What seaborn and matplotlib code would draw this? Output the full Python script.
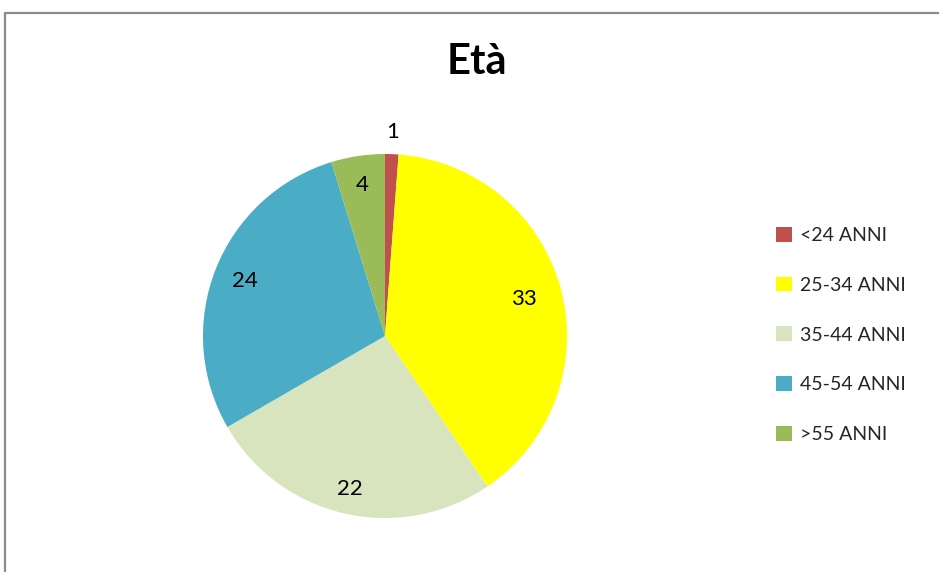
import matplotlib
matplotlib.use("Agg")
import matplotlib.pyplot as plt
from matplotlib.lines import Line2D
from matplotlib.patches import Patch
import seaborn as sns
import numpy as np

categories = ["<24 ANNI", "25-34 ANNI", "35-44 ANNI", "45-54 ANNI", ">55 ANNI"]
values = [1, 33, 22, 24, 4]
colors = ["#C0504D", "#FFFF00", "#D7E4BD", "#4BACC6", "#9BBB59"]
title = "Età"

sns.set_theme(style="white")
plt.rcParams['font.family'] = ['Lato', 'DejaVu Sans']

W, H = 939, 572
fig = plt.figure(figsize=(W / 100, H / 100), dpi=100)
cx, cy, r = 385, 336, 182
ax = fig.add_axes([(cx - r) / W, (H - cy - r) / H, 2 * r / W, 2 * r / H])
wedges, _ = ax.pie(values, colors=colors, startangle=90, counterclock=False,
                   radius=1.0, wedgeprops=dict(linewidth=0))
ax.set_xlim(-1, 1)
ax.set_ylim(-1, 1)
ax.set_aspect('equal')
ax.axis('off')

dists = [1.12, 0.79, 0.86, 0.83, 0.84]
for w, v, d in zip(wedges, values, dists):
    ang = np.deg2rad((w.theta1 + w.theta2) / 2)
    ax.text(d * np.cos(ang), d * np.sin(ang), str(v), ha='center', va='center',
            fontsize=16, color='black', family=['Lato', 'DejaVu Sans'])

fig.text(477 / W, 1 - 62 / H, title, ha='center', va='center',
         fontsize=30, fontweight='bold', color='black')

handles = [Patch(facecolor=c, edgecolor='none') for c in colors]
fig.legend(handles, categories, loc='center left',
           bbox_to_anchor=(776 / W, 1 - 335 / H), frameon=False,
           fontsize=14, handlelength=0.8, handleheight=0.8,
           handletextpad=0.45, labelspacing=1.68, borderaxespad=0, borderpad=0)

fig.add_artist(Line2D([4.5 / W, 1], [1 - 12.5 / H, 1 - 12.5 / H],
                      transform=fig.transFigure, color='#8c8c8c', lw=1.6))
fig.add_artist(Line2D([4.5 / W, 4.5 / W], [0, 1 - 12.5 / H],
                      transform=fig.transFigure, color='#8c8c8c', lw=1.6))

fig.savefig("out.png", dpi=100, facecolor='white')
